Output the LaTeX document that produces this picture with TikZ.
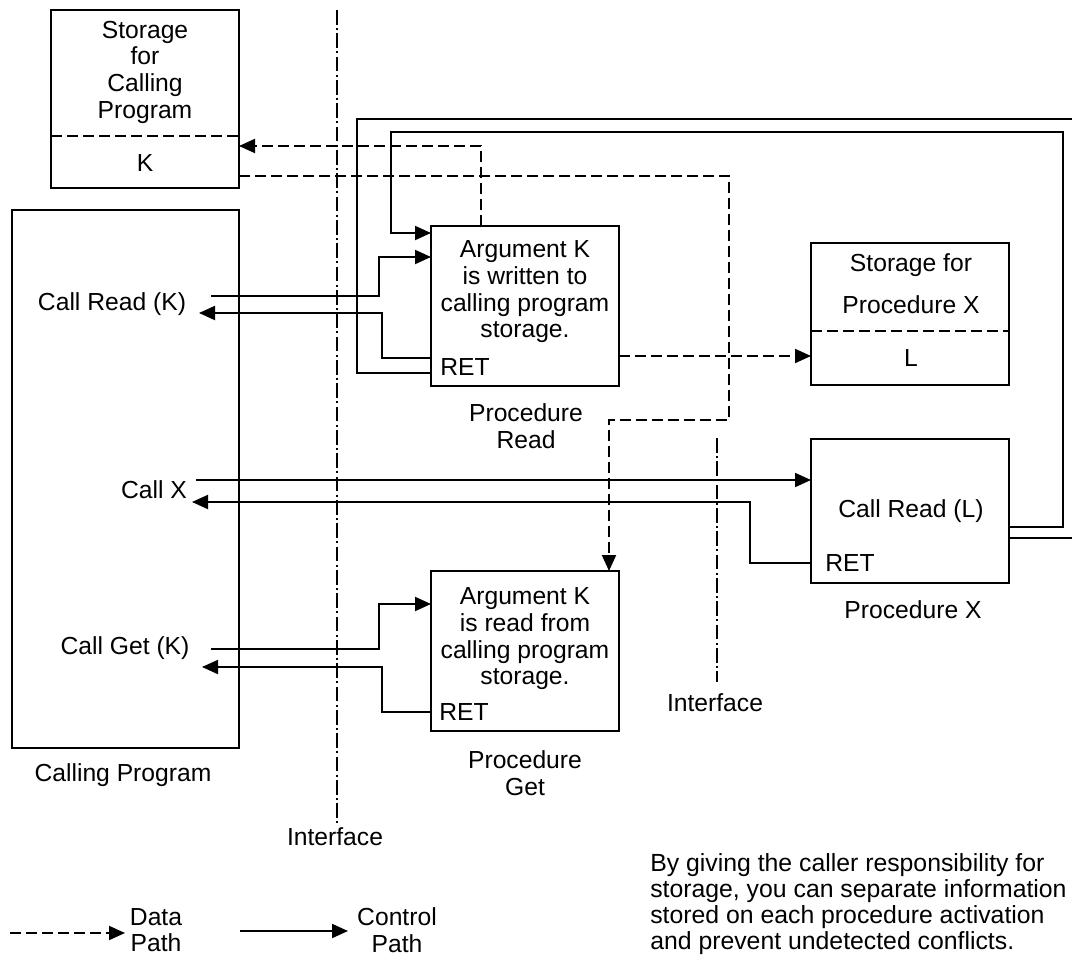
\documentclass[tikz,border=0pt]{standalone}
\usepackage{fontspec}
\setmainfont{Liberation Sans}
\usetikzlibrary{arrows.meta}
\begin{document}
\begin{tikzpicture}[x=0.75pt,y=-0.75pt,
  txt/.style={font=\fontsize{18.5pt}{20pt}\selectfont, inner sep=0pt, align=center},
  box/.style={draw, line width=1.6pt, inner sep=0pt, outer sep=0pt},
  ctl/.style={line width=1.5pt, -{Triangle[length=12pt,width=10.5pt]}},
  ctlplain/.style={line width=1.5pt},
  dat/.style={line width=1.5pt, dash pattern=on 8pt off 4pt, -{Triangle[length=12pt,width=10.5pt]}},
  datplain/.style={line width=1.5pt, dash pattern=on 8pt off 4pt},
  iface/.style={line width=1.2pt, dash pattern=on 11pt off 2.5pt on 1.5pt off 2.5pt},
]
\useasboundingbox (0,0) rectangle (1072,956);
\clip (0,0) rectangle (1072,956);

% boxes
\node[box, minimum width=141pt, minimum height=133.5pt] (storCP) at (145,99) {};
\node[box, minimum width=170.25pt, minimum height=403.5pt] (callprog) at (125.5,479) {};
\node[box, minimum width=141pt, minimum height=120pt] (procRead) at (525,306) {};
\node[box, minimum width=141pt, minimum height=120pt] (procGet) at (525,651) {};
\node[box, minimum width=148.5pt, minimum height=106.5pt] (storX) at (910,314) {};
\node[box, minimum width=148.5pt, minimum height=108pt] (procX) at (910,511) {};

% dividers
\draw[datplain] (storCP.west |- 0,136) -- (storCP.east |- 0,136);
\draw[datplain] (storX.west |- 0,331) -- (storX.east |- 0,331);

% texts
\node[txt] (storCPt) at (145,72) {Storage\\for\\Calling\\Program};
\node[txt] (kCP) at (145,163) {K};
\node[txt] (crk) at (112,304) {Call Read (K)};
\node[txt] (cx) at (154,490) {Call X};
\node[txt] (cgk) at (125,648) {Call Get (K)};
\node[txt] (cpl) at (123,775) {Calling Program};
\node[txt] (rdt) at (525,292) {Argument K\\is written to\\calling program\\storage.};
\node[txt] (rdret) at (465,367) {RET};
\node[txt] (rdl) at (526,426) {Procedure\\Read};
\node[txt] (gtt) at (525,639) {Argument K\\is read from\\calling program\\storage.};
\node[txt] (gtret) at (464,712) {RET};
\node[txt] (gtl) at (525,773) {Procedure\\Get};
\node[txt] (sx1) at (911,265) {Storage for};
\node[txt] (sx2) at (911,305) {Procedure X};
\node[txt] (sxl) at (911,358) {L};
\node[txt] (pxt) at (911,511) {Call Read (L)};
\node[txt] (pxret) at (850,563) {RET};
\node[txt] (pxl) at (913,610) {Procedure X};
\node[txt] (if1) at (335,837) {Interface};
\node[txt] (if2) at (715,703) {Interface};

% interfaces
\coordinate (if1top) at (337,10);
\coordinate (if1bot) at (337,824);
\draw[iface] (if1top) -- (if1bot);
\coordinate (if2top) at (717,438);
\coordinate (if2bot) at (717,682);
\draw[iface] (if2top) -- (if2bot);

% control paths
\coordinate (crkOut) at (211,296);
\coordinate (crkIn) at (199,313);
\draw[ctl] (crkOut) -- (379,296) -- (379,257) -- (procRead.west |- 0,257);
\draw[ctl] (procRead.west |- 0,358) -- (382,358) -- (382,313) -- (crkIn);
\draw[ctlplain] (procRead.west |- 0,373) -- (357,373) -- (357,119) -- (1090,119) -- (1090,538) -- (procX.east |- 0,538);
\draw[ctl] (procX.east |- 0,527) -- (1063,527) -- (1063,132) -- (391,132) -- (391,233) -- (procRead.west |- 0,233);
\coordinate (cxOut) at (196,480);
\coordinate (cxIn) at (192,502);
\draw[ctl] (cxOut) -- (procX.west |- 0,480);
\draw[ctl] (procX.west |- 0,563) -- (750,563) -- (750,502) -- (cxIn);
\coordinate (cgOut) at (211,649);
\coordinate (cgIn) at (202,667);
\draw[ctl] (cgOut) -- (379,649) -- (379,604) -- (procGet.west |- 0,604);
\draw[ctl] (procGet.west |- 0,712) -- (382,712) -- (382,667) -- (cgIn);

% data paths
\draw[dat] (procRead.north -| 481,0) -- (481,146) -- (storCP.east |- 0,146);
\draw[dat] (storCP.east |- 0,176) -- (729,176) -- (729,420) -- (609,420) -- (procGet.north -| 609,0);
\draw[dat] (procRead.east |- 0,356) -- (storX.west |- 0,356);

% legend
\coordinate (lgd1) at (10,933);
\coordinate (lgd1e) at (125,933);
\draw[dat] (lgd1) -- (lgd1e);
\node[txt] (ldata) at (156,930) {Data\\Path};
\coordinate (lgc1) at (240,931);
\coordinate (lgc1e) at (348,931);
\draw[ctl] (lgc1) -- (lgc1e);
\node[txt] (lctl) at (397,930) {Control\\Path};

% note
\node[txt, font=\fontsize{18.6pt}{19.6pt}\selectfont, align=left, anchor=north west] (note) at (650,853) {By giving the caller responsibility for\\storage, you can separate information\\stored on each procedure activation\\and prevent undetected conflicts.};
\end{tikzpicture}
\end{document}
